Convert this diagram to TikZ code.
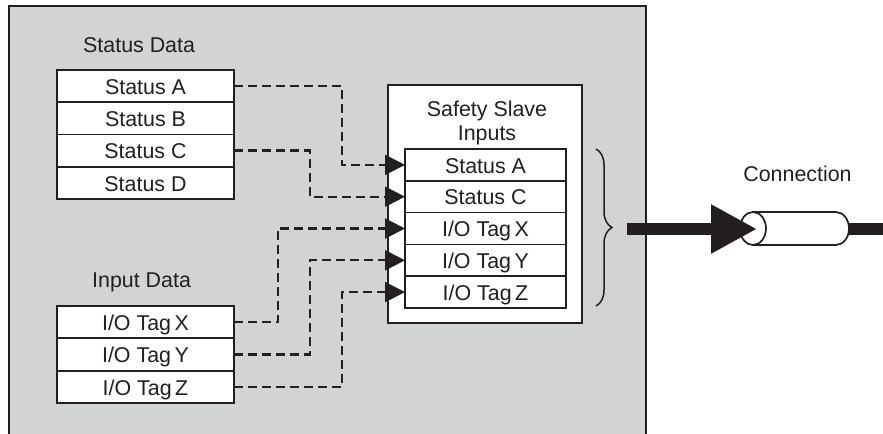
\documentclass[tikz,border=0pt]{standalone}
\usepackage{fontspec}
\setmainfont{Liberation Sans}
\usetikzlibrary{arrows.meta,decorations.pathreplacing}
\definecolor{panelgray}{RGB}{209,211,212}
\definecolor{ink}{RGB}{35,31,32}
\tikzset{
  txt/.style={font=\fontsize{21.4bp}{24bp}\selectfont, text=ink, inner sep=0pt},
  cell/.style={draw=ink, fill=white, line width=1.7bp, outer sep=0pt, inner sep=0pt,
    font=\fontsize{21.4bp}{24bp}\selectfont, text=ink, text height=16.5bp, text depth=0bp},
  scell/.style={cell, minimum width=177bp, minimum height=32.25bp},
  icell/.style={cell, minimum width=161bp, minimum height=31.8bp},
  link/.style={draw=ink, line width=2.2bp, dash pattern=on 9bp off 5bp,
    -{Triangle[length=20bp,width=20bp]}},
}
\begin{document}
\begin{tikzpicture}[x=1bp,y=1bp]
\useasboundingbox (0,-434) rectangle (883,0);
\clip (0,-434) rectangle (883,0);
% gray panel
\fill[panelgray] (9,-440) rectangle (646,-6);
\draw[ink, line width=1.9bp] (9,-440) -- (9,-6) -- (646,-6) -- (646,-440);
% labels
\node[txt, anchor=base west] (lsd) at (83,-52.7) {Status Data};
\node[txt, anchor=base west] (lid) at (92,-288) {Input Data};
\node[txt, anchor=base] (lcon) at (797.5,-182) {Connection};
% status table
\node[scell] (sA) at (145.5,-86.1) {Status A};
\node[scell] (sB) at (145.5,-118.4) {Status B};
\node[scell] (sC) at (145.5,-150.6) {Status C};
\node[scell] (sD) at (145.5,-182.9) {Status D};
% input table
\node[scell] (tX) at (145.5,-322.2) {I/O Tag\,X};
\node[scell] (tY) at (145.5,-354.5) {I/O Tag\,Y};
\node[scell] (tZ) at (145.5,-386.8) {I/O Tag\,Z};
% safety slave box
\node[draw=ink, fill=white, line width=1.9bp, outer sep=0pt, inner sep=0pt,
  minimum width=194bp, minimum height=238bp] (ssb) at (485,-204) {};
\node[txt, align=center] (ssl) at (487,-122.5) {Safety Slave\\Inputs};
\node[icell] (iA) at (485.5,-164.9) {Status A};
\node[icell] (iC) at (485.5,-196.7) {Status C};
\node[icell] (iX) at (485.5,-228.5) {I/O Tag\,X};
\node[icell] (iY) at (485.5,-260.3) {I/O Tag\,Y};
\node[icell] (iZ) at (485.5,-292.1) {I/O Tag\,Z};
% dashed links
\draw[link] (sA.east) -- ++(108,0) |- (iA.west);
\draw[link] (sC.east) -- ++(76,0) |- (iC.west);
\draw[link] (tX.east) -- ++(44,0) |- (iX.west);
\draw[link] (tY.east) -- ++(76,0) |- (iY.west);
\draw[link] (tZ.east) -- ++(108,0) |- (iZ.west);
% brace
\coordinate (bt) at (596,-149);
\coordinate (bb) at (596,-306);
\draw[ink, line width=1.5bp, decorate, decoration={brace, amplitude=16bp, aspect=0.5}] (bt) -- (bb);
% connection cable
\coordinate (cs) at (627,-229);
\coordinate (ce) at (883,-229);
\coordinate (cl) at (753,-228.5);
\filldraw[fill=white, draw=ink, line width=1.7bp]
  (753,-212) -- (836,-212) arc[start angle=90, end angle=-90, x radius=13, y radius=16.5] -- (753,-245) -- cycle;
\draw[ink, line width=12bp] (849,-229) -- (ce);
\filldraw[fill=white, draw=ink, line width=1.7bp] (cl) ellipse[x radius=13, y radius=16.5];
\draw[ink, line width=12bp, -{Triangle[length=46bp,width=46bp]}] (cs) -- (757,-229);
\end{tikzpicture}
\end{document}
